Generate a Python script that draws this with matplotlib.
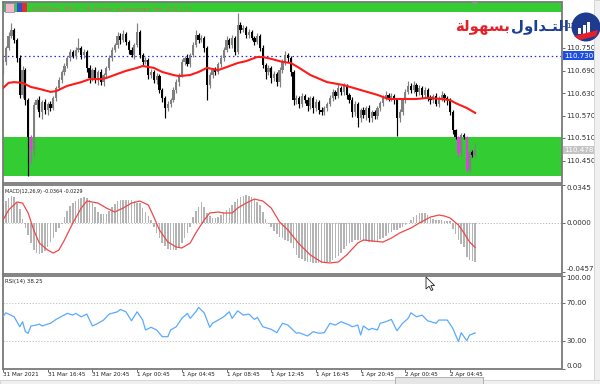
import matplotlib
matplotlib.use('Agg')
import matplotlib.pyplot as plt
from matplotlib.patches import Rectangle, Circle, Polygon
from matplotlib.transforms import blended_transform_factory, IdentityTransform

plt.rcParams['font.family'] = ['DejaVu Sans']

# ---------------- data ----------------
first_open = 110.686
closes = [
    110.713, 110.750, 110.782, 110.798, 110.771, 110.723, 110.625, 110.691, 110.611, 110.513,
    110.478, 110.598, 110.611, 110.579, 110.606, 110.585, 110.601, 110.590, 110.617, 110.643,
    110.665, 110.686, 110.702, 110.723, 110.739, 110.729, 110.745, 110.750, 110.731, 110.739,
    110.697, 110.670, 110.691, 110.665, 110.686, 110.659, 110.678, 110.697, 110.723, 110.745,
    110.758, 110.782, 110.771, 110.787, 110.766, 110.745, 110.731, 110.758, 110.793, 110.731,
    110.713, 110.718, 110.678, 110.686, 110.665, 110.675, 110.638, 110.617, 110.590, 110.601,
    110.611, 110.638, 110.659, 110.678, 110.713, 110.723, 110.707, 110.731, 110.758, 110.785,
    110.771, 110.777, 110.750, 110.651, 110.678, 110.691, 110.686, 110.707, 110.723, 110.745,
    110.771, 110.758, 110.777, 110.739, 110.811, 110.798, 110.803, 110.785, 110.793, 110.777,
    110.766, 110.782, 110.750, 110.705, 110.686, 110.697, 110.670, 110.681, 110.659, 110.691,
    110.713, 110.731, 110.723, 110.686, 110.611, 110.617, 110.601, 110.622, 110.611, 110.595,
    110.617, 110.590, 110.606, 110.585, 110.579, 110.590, 110.601, 110.617, 110.633, 110.622,
    110.643, 110.633, 110.649, 110.625, 110.611, 110.579, 110.601, 110.563, 110.585, 110.571,
    110.590, 110.563, 110.579, 110.569, 110.590, 110.603, 110.617, 110.625, 110.617, 110.622,
    110.611, 110.563, 110.579, 110.611, 110.633, 110.649, 110.638, 110.651, 110.633, 110.643,
    110.625, 110.638, 110.619, 110.611, 110.622, 110.601, 110.617, 110.625, 110.617, 110.611,
    110.579, 110.531, 110.513, 110.470, 110.518, 110.513, 110.425, 110.473, 110.465, 110.478]
# wick lengths in thousandths of a yen
upper_wick = [
    8, 6, 10, 19, 5, 6, 8, 10, 6, 5,   4, 8, 6, 10, 5, 7, 6, 8, 5, 6,
    7, 5, 8, 6, 9, 6, 8, 27, 5, 7,     6, 8, 5, 7, 6, 9, 5, 6, 8, 7,
    6, 12, 8, 10, 6, 5, 7, 6, 24, 5,   6, 8, 5, 7, 6, 8, 5, 6, 4, 8,
    6, 7, 9, 5, 8, 6, 10, 7, 9, 12,    6, 8, 5, 6, 8, 5, 7, 6, 9, 8,
    10, 6, 8, 5, 32, 7, 9, 6, 8, 5,    6, 9, 5, 7, 6, 8, 5, 7, 6, 9,
    8, 10, 6, 5, 6, 8, 5, 9, 6, 7,     6, 5, 8, 6, 7, 5, 6, 8, 9, 6,
    10, 6, 9, 5, 6, 7, 8, 5, 6, 7,     6, 8, 5, 7, 6, 5, 8, 10, 6, 7,
    6, 5, 8, 6, 9, 12, 7, 10, 6, 8,    6, 9, 5, 7, 6, 8, 5, 10, 6, 5,
    5, 6, 4, 3, 6, 5, 3, 8, 6, 19]
lower_wick = [
    6, 8, 5, 6, 8, 10, 9, 8, 12, 104,  35, 15, 10, 12, 18, 10, 14, 8, 6, 8,
    6, 9, 7, 5, 8, 6, 7, 5, 9, 8,      10, 12, 8, 9, 14, 8, 10, 7, 6, 8,
    5, 7, 9, 6, 8, 10, 6, 9, 5, 8,     7, 6, 10, 8, 9, 12, 8, 10, 27, 9,
    8, 6, 7, 9, 6, 8, 5, 7, 6, 5,      8, 6, 10, 40, 8, 7, 9, 6, 8, 7,
    6, 9, 7, 8, 6, 8, 5, 9, 7, 6,      8, 6, 9, 7, 20, 8, 12, 9, 10, 14,
    8, 7, 9, 10, 12, 9, 10, 7, 8, 12,  8, 14, 9, 10, 7, 8, 9, 6, 8, 7,
    6, 9, 8, 10, 8, 12, 9, 24, 10, 8,  12, 9, 10, 8, 7, 9, 8, 6, 9, 8,
    10, 48, 9, 8, 7, 6, 9, 8, 10, 7,   8, 6, 9, 10, 7, 6, 9, 8, 10, 12,
    8, 10, 6, 10, 8, 6, 6, 6, 6, 5]
magenta_bars = [10, 163, 166]

ma_bars = [0, 2, 4, 7, 10, 13, 17, 19, 23, 28, 31, 35, 37, 41, 44, 48, 50, 54, 57, 61,
           63, 67, 70, 73, 77, 80, 84, 87, 91, 93, 96, 100, 103, 106, 110, 116, 122, 128,
           134, 138, 142, 148, 152, 157, 160, 162, 166, 169]
ma_values = [110.643, 110.657, 110.659, 110.657, 110.646, 110.641, 110.633, 110.635, 110.649,
             110.659, 110.667, 110.667, 110.670, 110.681, 110.689, 110.697, 110.702, 110.697,
             110.686, 110.678, 110.675, 110.678, 110.686, 110.697, 110.691, 110.699, 110.710,
             110.715, 110.726, 110.726, 110.721, 110.713, 110.710, 110.697, 110.678, 110.659,
             110.651, 110.638, 110.625, 110.614, 110.614, 110.614, 110.617, 110.614, 110.611,
             110.603, 110.590, 110.577]

macd_hist = [
    0.0164, 0.0199, 0.0227, 0.0243, 0.0241, 0.0185, 0.0130, 0.0037, -0.0049, -0.0114,
    -0.0188, -0.0253, -0.0278, -0.0289, -0.0282, -0.0259, -0.0227, -0.0181, -0.0139, -0.0083,
    -0.0051, -0.0014, 0.0056, 0.0111, 0.0153, 0.0182, 0.0204, 0.0222, 0.0232, 0.0238,
    0.0232, 0.0208, 0.0182, 0.0148, 0.0102, 0.0083, 0.0079, 0.0083, 0.0111, 0.0144,
    0.0171, 0.0199, 0.0210, 0.0213, 0.0210, 0.0211, 0.0210, 0.0199, 0.0185, 0.0181,
    0.0139, 0.0102, 0.0065, 0.0028, -0.0037, -0.0093, -0.0139, -0.0185, -0.0218, -0.0245,
    -0.0253, -0.0255, -0.0253, -0.0222, -0.0190, -0.0139, -0.0093, -0.0037, 0.0053, 0.0111,
    0.0148, 0.0192, 0.0148, 0.0090, 0.0065, 0.0044, 0.0046, 0.0053, 0.0074, 0.0097,
    0.0118, 0.0139, 0.0164, 0.0190, 0.0218, 0.0236, 0.0245, 0.0255, 0.0250, 0.0241,
    0.0218, 0.0190, 0.0164, 0.0102, 0.0037, -0.0009, -0.0042, -0.0074, -0.0106, -0.0132,
    -0.0144, -0.0157, -0.0171, -0.0185, -0.0232, -0.0296, -0.0324, -0.0338, -0.0350, -0.0361,
    -0.0366, -0.0369, -0.0370, -0.0373, -0.0370, -0.0369, -0.0366, -0.0361, -0.0347, -0.0329,
    -0.0306, -0.0278, -0.0245, -0.0213, -0.0188, -0.0176, -0.0162, -0.0159, -0.0160, -0.0165,
    -0.0171, -0.0178, -0.0179, -0.0179, -0.0167, -0.0153, -0.0142, -0.0120, -0.0097, -0.0083,
    -0.0072, -0.0065, -0.0051, -0.0040, -0.0019, -0.0003, 0.0028, 0.0051, 0.0074, 0.0090,
    0.0093, 0.0090, 0.0069, 0.0046, 0.0032, 0.0025, 0.0025, 0.0025, 0.0020, 0.0019,
    0.0016, -0.0056, -0.0102, -0.0157, -0.0194, -0.0222, -0.0315, -0.0343, -0.0357, -0.0364]
signal_bars = [0, 2, 5, 7, 9, 11, 13, 16, 18, 20, 22, 25, 28, 30, 34, 37, 40, 43, 46, 49,
               52, 54, 56, 59, 62, 64, 67, 69, 72, 74, 77, 79, 82, 84, 87, 90, 93, 96, 99,
               102, 104, 106, 110, 114, 117, 120, 123, 127, 129, 132, 136, 139, 142, 146,
               149, 153, 156, 158, 160, 163, 165, 167, 169]
signal_values = [0.0025, 0.0118, 0.0192, 0.0182, 0.0090, -0.0068, -0.0188, -0.0253, -0.0281,
                 -0.0253, -0.0160, -0.0003, 0.0136, 0.0201, 0.0182, 0.0136, 0.0099, 0.0136,
                 0.0182, 0.0201, 0.0164, 0.0053, -0.0068, -0.0179, -0.0225, -0.0234, -0.0188,
                 -0.0095, 0.0025, 0.0090, 0.0099, 0.0090, 0.0090, 0.0136, 0.0182, 0.0219,
                 0.0201, 0.0136, 0.0006, -0.0068, -0.0132, -0.0197, -0.0299, -0.0364, -0.0373,
                 -0.0364, -0.0299, -0.0188, -0.0160, -0.0169, -0.0179, -0.0142, -0.0095,
                 -0.0049, -0.0003, 0.0053, 0.0071, 0.0062, 0.0044, -0.0021, -0.0095, -0.0179,
                 -0.0229]

rsi_bars = [0, 1, 4, 6, 7, 8, 9, 10, 12, 13, 14, 16, 17, 19, 23, 25, 26, 28, 30, 32, 34, 36,
            38, 41, 42, 44, 46, 48, 50, 51, 53, 55, 57, 59, 60, 62, 64, 66, 67, 69, 70, 72,
            74, 75, 77, 79, 81, 82, 84, 86, 88, 90, 91, 93, 96, 98, 100, 102, 105, 106, 109,
            111, 113, 115, 117, 119, 121, 124, 125, 127, 128, 129, 131, 132, 134, 135, 137,
            139, 141, 143, 145, 146, 148, 150, 152, 155, 156, 159, 161, 163, 164, 166, 167, 169]
rsi_values = [55.6, 59.9, 55.6, 44.9, 50.3, 39.6, 37.9, 45.7, 46.7, 47.8, 45.7, 47.8, 48.6,
              52.8, 59.3, 57.4, 59.3, 55.6, 58.5, 45.7, 48.6, 52.1, 58.5, 61.0, 63.5, 61.0,
              51.3, 61.0, 52.1, 41.4, 44.3, 41.4, 34.2, 34.2, 41.4, 44.9, 53.9, 59.3, 53.9,
              61.0, 65.7, 59.9, 44.3, 48.6, 52.1, 55.6, 61.0, 53.9, 62.0, 57.4, 58.5, 52.8,
              55.0, 44.9, 42.1, 38.5, 48.6, 46.7, 37.9, 38.5, 35.0, 39.6, 37.9, 38.5, 48.6,
              46.7, 50.3, 46.7, 44.9, 46.7, 36.0, 45.7, 41.4, 43.2, 41.4, 48.6, 50.3, 52.8,
              40.6, 48.6, 53.9, 59.9, 55.6, 57.4, 51.3, 48.6, 52.1, 52.1, 43.2, 28.9, 38.5,
              29.9, 35.9, 38.25]

time_label_bars = [0, 16, 32, 48, 64, 80, 96, 112, 128, 144, 160]
time_labels = ['31 Mar 2021', '31 Mar 16:45', '31 Mar 20:45', '1 Apr 00:45', '1 Apr 04:45',
               '1 Apr 08:45', '1 Apr 12:45', '1 Apr 16:45', '1 Apr 20:45', '2 Apr 00:45',
               '2 Apr 04:45']
price_ticks = [110.450, 110.510, 110.570, 110.630, 110.690, 110.750, 110.810]
level_price = 110.730
bid_price = 110.478
zone_low = (110.409, 110.513)
zone_high = (110.845, 110.900)
macd_ticks = [-0.0457, 0.0, 0.0345]
rsi_levels = [30, 70]
rsi_ticks = [0, 30, 70, 100]

# ---------------- figure ----------------
W, H = 600, 384
fig = plt.figure(figsize=(6, 3.84), dpi=100, facecolor='white')


def fbox(x0, y0, x1, y1):
    return [x0 / W, 1 - y1 / H, (x1 - x0) / W, (y1 - y0) / H]


def fx(x):
    return x / W


def fy(y):
    return 1 - y / H


PIX = IdentityTransform()

ax_main = fig.add_axes(fbox(2.5, 1.5, 561.5, 183))
ax_macd = fig.add_axes(fbox(2.5, 184.5, 561.5, 274))
ax_rsi = fig.add_axes(fbox(2.5, 275.5, 561.5, 368.5))

xlim = (-0.18, 199.9)
for ax in (ax_main, ax_macd, ax_rsi):
    ax.set_xlim(*xlim)
    ax.set_facecolor('white')
    for s in ax.spines.values():
        s.set_color('#7a7a7a')
        s.set_linewidth(1.3)
    ax.yaxis.tick_right()
    ax.tick_params(axis='y', length=2.2, width=0.6, color='#505050',
                   labelsize=5.1, pad=1.2, labelcolor='#303030')
    ax.tick_params(axis='x', bottom=False, labelbottom=False)

# ---- main price panel ----
n = len(closes)
bars_x = list(range(n))
opens = [first_open] + closes[:-1]
highs = [max(o, c) + u / 1000 for o, c, u in zip(opens, closes, upper_wick)]
lows = [min(o, c) - l / 1000 for o, c, l in zip(opens, closes, lower_wick)]
cols = []
for i, (o, c) in enumerate(zip(opens, closes)):
    if i in magenta_bars:
        cols.append('#e040e0')
    elif c >= o:
        cols.append('#808080')
    else:
        cols.append('#000000')

ax_main.set_ylim(110.390, 110.874)
ax_main.axhspan(*zone_low, color='#33cc33', zorder=0.5, lw=0)
ax_main.axhspan(*zone_high, color='#33cc33', zorder=0.5, lw=0)
ax_main.axhline(level_price, color='#2a2ae0', lw=0.9, ls=(0, (1.2, 2.2)), zorder=1)
ax_main.vlines(bars_x, lows, highs, colors=cols, lw=0.85, zorder=2)
ax_main.bar(bars_x, [c - o for o, c in zip(opens, closes)], bottom=opens, width=0.8,
            color=cols, lw=0, zorder=2.1)
ax_main.plot(ma_bars, ma_values, color='#ff1a1a', lw=1.5, zorder=3, solid_joinstyle='round')
ax_main.set_yticks(price_ticks)
ax_main.set_yticklabels([f'{v:.3f}' for v in price_ticks])

tr_main = blended_transform_factory(fig.transFigure, ax_main.transData)
fig.text(fx(564), level_price, f'{level_price:.3f}', transform=tr_main, fontsize=5.1,
         color='white', va='center', ha='left',
         bbox=dict(boxstyle='square,pad=0.15', fc='#1f4fe0', ec='none'))
fig.text(fx(564), bid_price, f'{bid_price:.3f}', transform=tr_main, fontsize=5.1,
         color='white', va='center', ha='left',
         bbox=dict(boxstyle='square,pad=0.15', fc='#c4c4c4', ec='none'))

# ---- MACD panel ----
ax_macd.set_ylim(-0.0475, 0.0354)
ax_macd.axhline(0, color='#b0b0b0', lw=0.6, ls=(0, (1.5, 2)), zorder=1)
ax_macd.bar(bars_x, macd_hist, width=0.55, color='#b4b4b4', lw=0, zorder=2)
ax_macd.plot(signal_bars, signal_values, color='#f04848', lw=0.9, zorder=3)
ax_macd.set_yticks(macd_ticks)
ax_macd.set_yticklabels([f'{v:.4f}' for v in macd_ticks])
for t, va in zip(ax_macd.yaxis.get_major_ticks(), ['bottom', 'center', 'top']):
    t.label2.set_va(va)

# ---- RSI panel ----
ax_rsi.set_ylim(0, 100)
for lv in rsi_levels:
    ax_rsi.axhline(lv, color='#b8b8b8', lw=0.6, ls=(0, (1.5, 2)), zorder=1)
ax_rsi.plot(rsi_bars, rsi_values, color='#5aaaff', lw=0.9, zorder=3)
ax_rsi.set_yticks(rsi_ticks)
ax_rsi.set_yticklabels([f'{v:.2f}' for v in rsi_ticks])
for t, va in zip(ax_rsi.yaxis.get_major_ticks(), ['bottom', 'center', 'center', 'top']):
    t.label2.set_va(va)
ax_rsi.set_xticks(time_label_bars)
ax_rsi.set_xticklabels(time_labels)
ax_rsi.tick_params(axis='x', bottom=True, labelbottom=True, length=1.8, width=0.6,
                   color='#505050', labelsize=4.1, pad=1.0, labelcolor='#202020')
for lbl in ax_rsi.get_xticklabels():
    lbl.set_ha('left')

# ---- texts ----
fig.text(fx(32), fy(9), 'USDJPYm, M15:  US Dollar vs Japanese Yen (0.2-1.1)', fontsize=4.4,
         color='#d86078', va='center', ha='left')
fig.text(fx(5), fy(191.5), 'MACD(12,26,9) -0.0364 -0.0229', fontsize=3.5, color='#202020',
         va='center', ha='left')
fig.text(fx(5), fy(281.7), 'RSI(14) 38.25', fontsize=4.0, color='#202020',
         va='center', ha='left')

# logo text (Arabic presentation forms in visual order)
word_red = '\uFE94\uFEDF\uFEEE\uFEEC\uFEB4\uFE91'
word_blue = '\uFEDD\uFEED\uFE8D\uFEAA\u0640\uFE98\uFEDF\uFE8D'
fig.text(fx(482), fy(27), word_red, fontsize=10.8, fontweight='bold', color='#e5202a',
         ha='center', va='center', zorder=10)
fig.text(fx(540), fy(27), word_blue, fontsize=10.8, fontweight='bold', color='#1b3f96',
         ha='center', va='center', zorder=10)

# ---- decorations (pixel coordinates) ----
def P(x, y):
    return (x, H - y)


fig.patches.append(Rectangle(P(594, 384), 6, 384, transform=PIX, fc='#f0f0f0',
                             ec='#d0d0d0', lw=0.6, zorder=5))
fig.patches.append(Rectangle(P(0, 384), 600, 4, transform=PIX, fc='#f0f0f0',
                             ec='#d0d0d0', lw=0.6, zorder=5))
fig.patches.append(Rectangle(P(395, 384), 88, 7, transform=PIX, fc='#e6e6e6',
                             ec='#a8a8a8', lw=0.6, zorder=6))
# logo circle
fig.patches.append(Circle(P(586, 27), 14.5, transform=PIX, fc='#1d3c90', ec='none', zorder=11))
for bx, bh in [(578, 6), (582.5, 9), (587, 12)]:
    fig.patches.append(Rectangle(P(bx, 34), 3, bh, transform=PIX, fc='white', ec='none',
                                 zorder=12))
fig.patches.append(Polygon([P(574, 36), P(598, 30), P(596, 36), P(580, 40)], closed=True,
                           transform=PIX, fc='#e5202a', ec='none', zorder=12))
# top-left icons
fig.patches.append(Rectangle(P(5, 12), 9, 9, transform=PIX, fc='#f2b6c8', ec='#7f7fc8',
                             lw=0.5, zorder=10))
fig.patches.append(Rectangle(P(17, 12), 5, 9, transform=PIX, fc='#3050d0', ec='none', zorder=10))
fig.patches.append(Rectangle(P(22, 12), 5, 9, transform=PIX, fc='#e03030', ec='none', zorder=10))
# shift marker
fig.patches.append(Polygon([P(472, 2), P(478, 2), P(475, 5.5)], closed=True, transform=PIX,
                           fc='#909090', ec='none', zorder=10))
# mouse cursor
cur = [(0, 0), (0, 12), (3, 9.2), (5.3, 13.5), (7, 12.8), (4.8, 8.6), (8.6, 8.6)]
fig.patches.append(Polygon([P(426 + a, 277 + b) for a, b in cur], closed=True, transform=PIX,
                           fc='white', ec='#202020', lw=0.6, zorder=10))

fig.savefig('out.png', dpi=100, facecolor='white')
